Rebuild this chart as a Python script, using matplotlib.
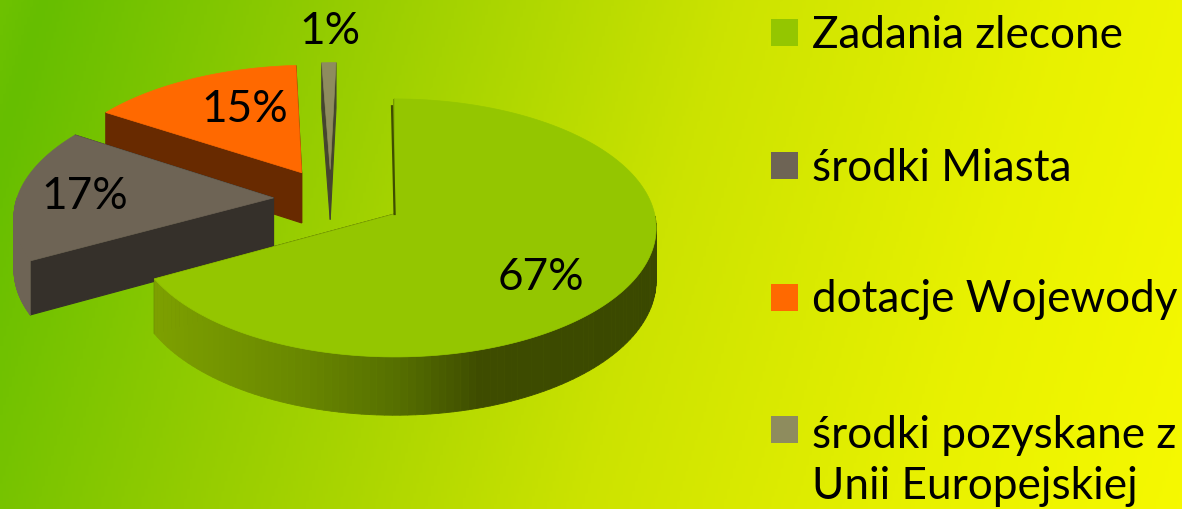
import numpy as np
import matplotlib.pyplot as plt
from matplotlib.colors import LinearSegmentedColormap
from matplotlib.patches import Rectangle

categories = ['Zadania zlecone', 'środki Miasta', 'dotacje Wojewody', 'środki pozyskane z\nUnii Europejskiej']
values = [67, 17, 15, 1]
top_colors = ['#94c600', '#6e6455', '#ff6900', '#8e8c5e']
cut_colors = ['#3f4d00', '#35302a', '#682a00', '#45452e']

# how far each slice is pulled out of the pie
shifts = [(0.01, 0), (-0.462, 0.128), (-0.36, 0.335), (-0.247, 0.362)]
label_pos = [(541, 278), (85, 197), (245, 110), (330, 31)]

plt.rcParams['font.family'] = ['Lato', 'DejaVu Sans']

cx, cy = 392, 215
rx, ry = 260, 127.5
persp = 0.108
depth = 52


def project(x, y):
    w = 1 / (1 + persp * y)
    return cx + rx * x * w, cy - ry * y * w, depth * w


def side_color(x):
    r = np.interp(x, [157, 300, 400, 480, 660], [125, 105, 85, 62, 58])
    g = np.interp(x, [157, 300, 400, 480, 660], [160, 135, 110, 76, 72])
    return (r / 255, g / 255, 0)


def draw_slice(a0, a1, shift, top, cut, zo, shaded=False):
    # a0 -> a1 goes clockwise, angles in degrees
    ang = np.radians(np.linspace(a0, a1, 160))
    sx, sy, d = project(np.cos(ang) + shift[0], np.sin(ang) + shift[1])
    px, py, pd = project(np.array(shift[0]), np.array(shift[1]))

    for i in (0, -1):
        ax.fill([sx[i], px, px, sx[i]], [sy[i], py, py + pd, sy[i] + d[i]],
                color=cut, lw=0.8, zorder=zo)

    # only the front part of the rim can be seen
    for i in range(len(ang) - 1):
        if np.sin(ang[i]) > 0:
            continue
        c = side_color((sx[i] + sx[i + 1]) / 2) if shaded else top
        ax.fill([sx[i], sx[i + 1], sx[i + 1], sx[i]],
                [sy[i], sy[i + 1], sy[i + 1] + d[i + 1], sy[i] + d[i]],
                color=c, lw=0.6, zorder=zo + 0.2)

    ax.fill(np.r_[px, sx], np.r_[py, sy], color=top, lw=0.5, zorder=zo + 0.5)


fig = plt.figure(figsize=(11.82, 5.10), dpi=100)
ax = fig.add_axes([0, 0, 1, 1])
ax.set_xlim(0, 1182)
ax.set_ylim(510, 0)
ax.axis('off')

bg_cmap = LinearSegmentedColormap.from_list('bg', [
    (0.00, (0.43, 0.76, 0.0)),
    (0.03, (0.40, 0.745, 0.0)),
    (0.25, (0.58, 0.80, 0.0)),
    (0.55, (0.80, 0.89, 0.0)),
    (0.80, (0.91, 0.945, 0.0)),
    (1.00, (0.965, 0.975, 0.0)),
])
gx, gy = np.meshgrid(np.linspace(0, 1182, 400), np.linspace(0, 510, 200))
ax.imshow((gx + 0.3 * gy) / (1182 + 0.3 * 510), cmap=bg_cmap, vmin=0, vmax=1,
          extent=[0, 1182, 510, 0], aspect='auto', zorder=0)

edges = 90 - np.cumsum([0] + values) * 3.6
for n, k in enumerate([3, 2, 1, 0]):
    draw_slice(edges[k], edges[k + 1], shifts[k], top_colors[k], cut_colors[k], 2 + n, shaded=k == 0)

# seam of the big slice next to the 1% slice
x0, y0, _ = project(np.array(0.01), np.array(0.0))
x1, y1, _ = project(np.array(0.0), np.array(0.93))
ax.plot([x0, x1], [y0, y1], color=cut_colors[0], lw=1.6, zorder=6)

for v, (lx, ly) in zip(values, label_pos):
    ax.text(lx, ly, f'{v}%', fontsize=31.8, color='black', ha='center', va='center', zorder=10)

square_y = [33, 165.5, 298, 430]
text_y = [35, 169, 300, 461]
for name, col, sy_, ty in zip(categories, top_colors, square_y, text_y):
    ax.add_patch(Rectangle((771, sy_ - 13), 27, 27, facecolor=col, edgecolor='none', zorder=5))
    ax.text(812, ty, name, fontsize=31.8, color='black', ha='left', va='center',
            linespacing=1.28, zorder=10)

fig.savefig('out.png', dpi=100)
